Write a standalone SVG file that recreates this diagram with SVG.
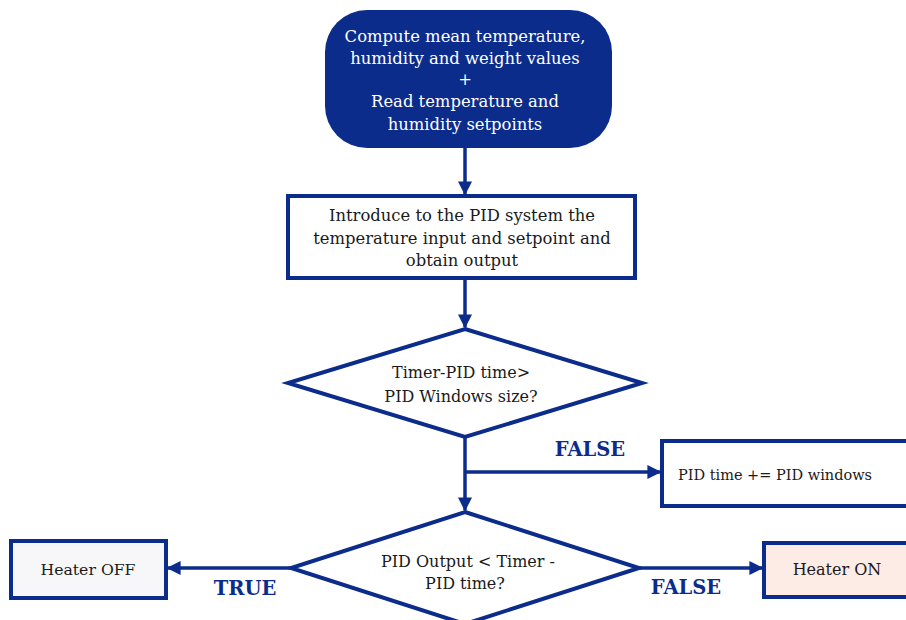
<svg xmlns="http://www.w3.org/2000/svg" width="906" height="620" viewBox="0 0 906 620">
<defs>
<marker id="ah" viewBox="0 0 10 10" refX="9" refY="5" markerWidth="4" markerHeight="4" markerUnits="strokeWidth" orient="auto">
<path d="M0,0 L10,5 L0,10 z" fill="#0C2C8C"/>
</marker>
<style>
.t{font-family:"DejaVu Serif","Liberation Serif",serif;text-anchor:middle;fill:#1a1a1a}
.w{fill:#ffffff}
.lbl{font-family:"DejaVu Serif","Liberation Serif",serif;font-weight:bold;font-size:19.5px;fill:#0C2C8C;text-anchor:middle}
.box{stroke:#0C2C8C;stroke-width:4;fill:#ffffff}
.edge{stroke:#0C2C8C;stroke-width:3.5;fill:none}
</style>
</defs>
<g id="start">
<rect x="325" y="10" width="287" height="138" rx="42" ry="42" fill="#0C2C8C"/>
<text class="t w" font-size="16.4"><tspan x="465" y="42">Compute mean temperature,</tspan><tspan x="465" y="64">humidity and weight values</tspan><tspan x="465" y="85">+</tspan><tspan x="465" y="107">Read temperature and</tspan><tspan x="465" y="130">humidity setpoints</tspan></text>
</g>
<g id="pid">
<rect class="box" x="288" y="196" width="347" height="82"/>
<text class="t" font-size="16.4"><tspan x="462" y="221">Introduce to the PID system the</tspan><tspan x="462" y="244">temperature input and setpoint and</tspan><tspan x="462" y="266">obtain output</tspan></text>
</g>
<g id="dec1">
<polygon class="box" points="465,329 642,383 465,437 288,383"/>
<text class="t" font-size="16"><tspan x="461" y="378">Timer-PID time&gt;</tspan><tspan x="461" y="402">PID Windows size?</tspan></text>
</g>
<g id="pidtime">
<rect class="box" x="662" y="441" width="260" height="65"/>
<text class="t" font-size="14.5" style="text-anchor:start" x="678" y="480">PID time += PID windows</text>
</g>
<g id="dec2">
<polygon class="box" points="465,512 639,568 465,624 291,568"/>
<text class="t" font-size="16"><tspan x="468" y="567">PID Output &lt; Timer -</tspan><tspan x="465" y="589">PID time?</tspan></text>
</g>
<g id="off">
<rect class="box" x="11" y="541" width="155" height="57" style="fill:#F7F7F9"/>
<text class="t" font-size="15.7" x="88" y="575">Heater OFF</text>
</g>
<g id="on">
<rect class="box" x="764" y="543" width="160" height="54" style="fill:#FDEBE5"/>
<text class="t" font-size="16" x="837" y="575">Heater ON</text>
</g>
<g id="connectors">
<line class="edge" x1="465" y1="148" x2="465" y2="194" marker-end="url(#ah)"/>
<line class="edge" x1="465" y1="280" x2="465" y2="327" marker-end="url(#ah)"/>
<line class="edge" x1="465" y1="437" x2="465" y2="510" marker-end="url(#ah)"/>
<line class="edge" x1="465" y1="472" x2="660" y2="472" marker-end="url(#ah)"/>
<line class="edge" x1="291" y1="568" x2="168" y2="568" marker-end="url(#ah)"/>
<line class="edge" x1="639" y1="568" x2="762" y2="568" marker-end="url(#ah)"/>
<text class="lbl" x="590" y="456">FALSE</text>
<text class="lbl" x="245" y="595">TRUE</text>
<text class="lbl" x="686" y="594">FALSE</text>
</g>
</svg>
